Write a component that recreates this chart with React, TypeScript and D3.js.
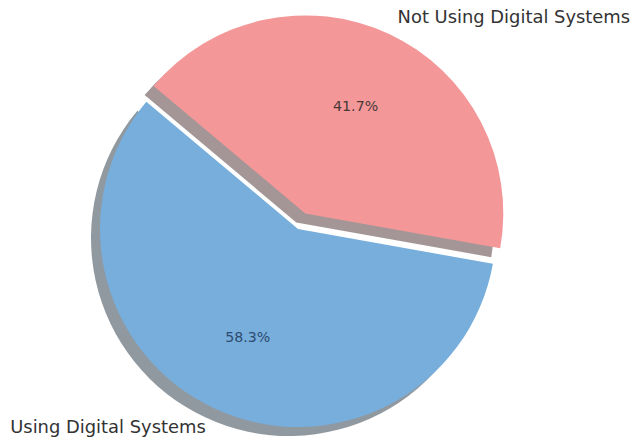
import React from "react";
import * as d3 from "d3";

const categories = ["Using Digital Systems", "Not Using Digital Systems"];
const values = [58.3, 41.7];
const colors = ["#77aedc", "#f49798"];
const explode = [0, 0.087];
const pctColors = ["#2d4b70", "#4a3838"];

const W = 631;
const H = 441;
const cx = 298;
const cy = 229;
const R = 198;
const START_DEG = 140; // matplotlib startangle (counter-clockwise from 3 o'clock)
const SHADOW = { dx: -9, dy: 9 };

function shade(c: string) {
  const rgb = d3.rgb(c);
  return d3.rgb(rgb.r * 0.3, rgb.g * 0.3, rgb.b * 0.3).toString();
}

export default function App() {
  const a0 = Math.PI / 2 - (START_DEG * Math.PI) / 180;
  const pie = d3
    .pie<number>()
    .sort(null)
    .startAngle(a0)
    .endAngle(a0 - 2 * Math.PI);
  const arcs = pie(values);
  const arc = d3.arc<d3.PieArcDatum<number>>().innerRadius(0).outerRadius(R);

  const items = arcs.map((d, i) => {
    const mid = (d.startAngle + d.endAngle) / 2;
    const ux = Math.sin(mid);
    const uy = -Math.cos(mid);
    const ox = explode[i] * R * ux;
    const oy = explode[i] * R * uy;
    const lx = ox + 1.1 * R * ux;
    const ly = oy + 1.1 * R * uy;
    const px = ox + 0.6 * R * ux;
    const py = oy + 0.6 * R * uy;
    return { d, i, ox, oy, lx, ly, px, py, ux };
  });

  return (
    <svg
      width={W}
      height={H}
      style={{ position: "absolute", left: 0, top: 0, background: "#fff" }}
      fontFamily="DejaVu Sans, sans-serif"
    >
      <g transform={`translate(${cx},${cy})`}>
        {items.map((it) => (
          <path
            key={"s" + it.i}
            d={arc(it.d) || ""}
            transform={`translate(${it.ox + SHADOW.dx},${it.oy + SHADOW.dy})`}
            fill={shade(colors[it.i])}
            fillOpacity={0.5}
          />
        ))}
        {items.map((it) => (
          <path
            key={"w" + it.i}
            d={arc(it.d) || ""}
            transform={`translate(${it.ox},${it.oy})`}
            fill={colors[it.i]}
          />
        ))}
        {items.map((it) => (
          <text
            key={"l" + it.i}
            x={it.lx}
            y={it.ly}
            textAnchor={it.ux > 0 ? "start" : "end"}
            dominantBaseline="central"
            fontSize={17.9}
            fill="#333"
          >
            {categories[it.i]}
          </text>
        ))}
        {items.map((it) => (
          <text
            key={"p" + it.i}
            x={it.px}
            y={it.py}
            textAnchor="middle"
            dominantBaseline="central"
            fontSize={14.2}
            fill={pctColors[it.i]}
          >
            {values[it.i].toFixed(1) + "%"}
          </text>
        ))}
      </g>
    </svg>
  );
}
